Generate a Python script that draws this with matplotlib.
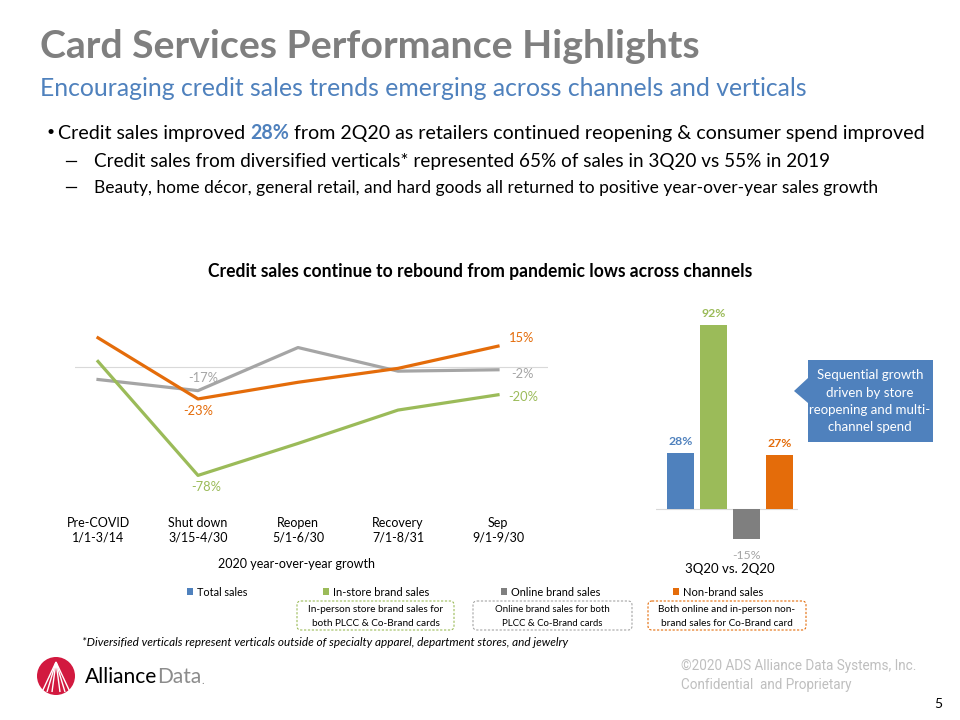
import matplotlib
matplotlib.use("Agg")
import matplotlib.pyplot as plt
from matplotlib.patches import Rectangle, FancyBboxPatch, Polygon, Circle

W, H = 960, 720
plt.rcParams["font.family"] = ["Lato", "DejaVu Sans"]

# --- data -------------------------------------------------------------------
periods = ["Pre-COVID\n1/1-3/14", "Shut down\n3/15-4/30", "Reopen\n5/1-6/30",
           "Recovery\n7/1-8/31", "Sep\n9/1-9/30"]
instore_yoy = [4, -78, -55, -31, -20]
online_yoy = [-9, -17, 14, -3, -2]
nonbrand_yoy = [21, -23, -11, -1, 15]

bar_names = ["Total sales", "In-store brand sales", "Online brand sales", "Non-brand sales"]
bar_vals = [28, 92, -15, 27]

BLUE, GREEN, LGRAY, DGRAY, ORANGE = "#4F81BD", "#9BBB59", "#A5A5A5", "#7F7F7F", "#E46C0A"
bar_colors = [BLUE, GREEN, DGRAY, ORANGE]

fig = plt.figure(figsize=(9.6, 7.2), dpi=100)
rend = fig.canvas.get_renderer()

# overlay in pixel coords for all slide text / shapes
ov = fig.add_axes([0, 0, 1, 1])
ov.set_xlim(0, W)
ov.set_ylim(H, 0)
ov.axis("off")


def fit(x, y, s, width, size=10, **kw):
    t = ov.text(x, y, s, fontsize=size, va="center", **kw)
    w = t.get_window_extent(rend).width
    t.set_fontsize(size * width / w)
    return t


def rich(x, y, parts, width, size=12):
    texts, cx = [], x
    for s, kw in parts:
        t = ov.text(cx, y, s, fontsize=size, va="center", **kw)
        cx = t.get_window_extent(rend).x1
        texts.append(t)
    k = width / (cx - x)
    cx = x
    for t in texts:
        t.set_fontsize(size * k)
        t.set_x(cx)
        cx = t.get_window_extent(rend).x1
    return texts


# --- header text ----------------------------------------------------------
fit(40, 47, "Card Services Performance Highlights", 660, 26, color=DGRAY, weight="bold")
fit(40, 89, "Encouraging credit sales trends emerging across channels and verticals",
    765, 18, color=BLUE)
ov.text(46, 132, "\u2022", fontsize=10, va="center")
rich(58, 133, [("Credit sales improved ", {}),
               ("28%", {"color": BLUE, "weight": "bold"}),
               (" from 2Q20 as retailers continued reopening & consumer spend improved", {})],
     863, 13)
for y, s, w in [(162, "Credit sales from diversified verticals* represented 65% of sales in 3Q20 vs 55% in 2019", 734),
                (188, "Beauty, home d\u00e9cor, general retail, and hard goods all returned to positive year-over-year sales growth", 780)]:
    ov.plot([66, 76], [y - 1, y - 1], color="#000000", lw=0.9)
    fit(94, y, s, w, 11)

fit(208, 272, "Credit sales continue to rebound from pandemic lows across channels", 543, 11,
    weight="bold", color="#000000")

# --- line chart ---------------------------------------------------------------
ax = fig.add_axes([75 / W, 1 - 500 / H, 473 / W, 200 / H])
x = range(len(periods))
ax.plot(x, online_yoy, color=LGRAY, lw=2.3)
ax.plot(x, instore_yoy, color=GREEN, lw=2.3)
ax.plot(x, nonbrand_yoy, color=ORANGE, lw=2.3)
ax.axhline(0, color="#D9D9D9", lw=0.8, zorder=0)
ax.set_xlim(-0.23, 4.5)
ax.set_ylim(-95.7, 48.2)
ax.set_yticks([])
ax.set_xticks(list(x), periods, fontsize=9, linespacing=1.25)
ax.tick_params(axis="x", length=0, pad=12)
for s in ax.spines.values():
    s.set_visible(False)
ax.patch.set_visible(False)


def lab(i, vals, color, dx, dy):
    ax.annotate(f"{vals[i]}%", (i, vals[i]), xytext=(dx * 0.72, dy * 0.72),
                textcoords="offset points", ha="center", va="center",
                color=color, fontsize=9.3)


lab(1, nonbrand_yoy, ORANGE, 0, -12)
lab(4, nonbrand_yoy, ORANGE, 24, 8)
lab(1, online_yoy, LGRAY, 5, 13)
lab(4, online_yoy, LGRAY, 25, -4)
lab(1, instore_yoy, GREEN, 8, -12)
lab(4, instore_yoy, GREEN, 25, -2)

ov.text(296, 564, "2020 year-over-year growth", fontsize=9, ha="center", va="center")

# --- bar chart ----------------------------------------------------------------
bx = fig.add_axes([656 / W, 1 - 545 / H, 142 / W, 245 / H])
bx.bar(range(4), bar_vals, width=0.82, color=bar_colors)
bx.axhline(0, color="#D9D9D9", lw=0.8, zorder=0)
bx.set_xlim(-0.74, 3.55)
bx.set_ylim(-18, 104.5)
bx.axis("off")
for i, v in enumerate(bar_vals):
    off = 8 if v > 0 else -12
    bx.annotate(f"{v}%", (i, v), xytext=(0, off), textcoords="offset points",
                ha="center", va="center", fontsize=8.8,
                color=bar_colors[i] if v > 0 else LGRAY,
                weight="bold" if v > 0 else "normal")
ov.text(730, 569, "3Q20 vs. 2Q20", fontsize=9.5, ha="center", va="center")

# callout
ov.add_patch(Polygon([(808, 360), (933, 360), (933, 442), (808, 442), (808, 403),
                      (794, 391), (808, 378)], closed=True, color="#4F81BD", lw=0))
for y, s in zip([375, 393, 410, 427], ["Sequential growth", "driven by store",
                                        "reopening and multi-", "channel spend"]):
    ov.text(870, y, s, fontsize=9.5, color="white", ha="center", va="center")

# --- legend -------------------------------------------------------------------
leg_x = [187, 323, 501, 673]
leg_w = [51, 97, 90, 80]
for lx, lw_, name, c in zip(leg_x, leg_w, bar_names, bar_colors):
    ov.add_patch(Rectangle((lx, 588), 6, 7, color=c, lw=0))
    fit(lx + 10, 592, name, lw_, 8)

boxes = [(297, 454, GREEN, "In-person store brand sales for", "both PLCC & Co-Brand cards", 135),
         (473, 632, LGRAY, "Online brand sales for both", "PLCC & Co-Brand cards", 115),
         (648, 806, ORANGE, "Both online and in-person non-", "brand sales for Co-Brand card", 136)]
for x0, x1, c, l1, l2, tw in boxes:
    ov.add_patch(FancyBboxPatch((x0, 601), x1 - x0, 29, boxstyle="round,pad=0,rounding_size=4",
                                fill=False, ec=c, lw=0.8, ls=(0, (2, 1.5))))
    t1 = fit((x0 + x1) / 2, 609, l1, tw, 7, ha="center")
    ov.text((x0 + x1) / 2, 623, l2, fontsize=t1.get_fontsize(), ha="center", va="center")

fit(82, 643, "*Diversified verticals represent verticals outside of specialty apparel, department stores, and jewelry",
    488, 8, style="italic")

# --- footer -------------------------------------------------------------------
ov.add_patch(Circle((56, 676), 19, color="#D2193F", lw=0))
for ex in [42, 47, 52, 60, 65, 70]:
    ov.plot([56, ex], [662, 692], color="white", lw=1.0, solid_capstyle="butt")
logo = rich(85, 677, [("Alliance", {"color": "#000000"}), ("Data", {"color": "#8C8C8C"})], 117, 15)
ov.text(logo[-1].get_window_extent(rend).x1, 681, ".", fontsize=8, color="#8C8C8C", va="center")

cp = fit(681, 666, "\u00a92020 ADS Alliance Data Systems, Inc.", 237, 9,
         color="#BFBFBF", family=["Roboto", "DejaVu Sans"])
ov.text(681, 685, "Confidential  and Proprietary", fontsize=cp.get_fontsize(), va="center",
        color="#BFBFBF", family=["Roboto", "DejaVu Sans"])
ov.text(934, 704, "5", fontsize=10, va="center")

fig.savefig("out.png", dpi=100)
